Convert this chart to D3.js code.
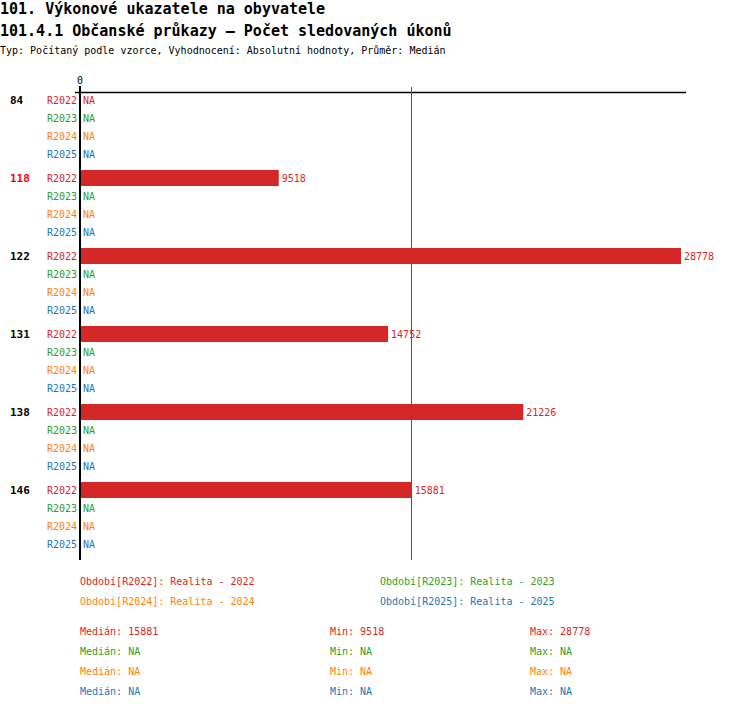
<!DOCTYPE html>
<html>
<head>
<meta charset="utf-8">
<script src="https://cdn.jsdelivr.net/npm/d3@7"></script>
<style>
  body { margin: 0; background: #fff; }
  text { font-family: "DejaVu Sans Mono", monospace; -webkit-font-smoothing: none; }
</style>
</head>
<body>
<div id="vis"></div>
<script>
var groups = ["84", "118", "122", "131", "138", "146"],
    highlight = "118",
    series = ["R2022", "R2023", "R2024", "R2025"],
    colors = ["#d62728", "#2ca02c", "#ff7f0e", "#1f77b4"],
    legendLabels = ["Období[R2022]: Realita - 2022", "Období[R2023]: Realita - 2023",
                    "Období[R2024]: Realita - 2024", "Období[R2025]: Realita - 2025"];

var values = [
  [null, 9518, 28778, 14752, 21226, 15881],   // R2022
  [null, null, null, null, null, null],       // R2023
  [null, null, null, null, null, null],       // R2024
  [null, null, null, null, null, null]        // R2025
];

var medians = [15881, null, null, null],
    mins = [9518, null, null, null],
    maxs = [28778, null, null, null];

var width = 750,
    height = 710;

var svg = d3.select("#vis").append("svg")
    .attr("width", width)
    .attr("height", height);

// titles
svg.append("text").attr("x", 0).attr("y", 14)
    .style("font-size", "15px").style("font-weight", "bold")
    .text("101. Výkonové ukazatele na obyvatele");
svg.append("text").attr("x", 0).attr("y", 36)
    .style("font-size", "15px").style("font-weight", "bold")
    .text("101.4.1 Občanské průkazy – Počet sledovaných úkonů");
svg.append("text").attr("x", 0).attr("y", 54)
    .style("font-size", "10px")
    .text("Typ: Počítaný podle vzorce, Vyhodnocení: Absolutní hodnoty, Průměr: Medián");

var x = d3.scaleLinear()
    .domain([0, d3.max(values[0])])
    .range([80, 681]);

var groupStep = 78, rowStep = 18, firstRow = 100;
function rowY(g, s) { return firstRow + g * groupStep + s * rowStep; }

// top axis line
svg.append("line")
    .attr("x1", 75).attr("x2", 686)
    .attr("y1", 92.5).attr("y2", 92.5)
    .attr("stroke", "#000").attr("stroke-width", 1.5);

svg.append("text")
    .attr("x", x(0)).attr("y", 84)
    .attr("text-anchor", "middle")
    .style("font-size", "10px")
    .text("0");

// median line
var mx = Math.round(x(medians[0])) - 0.5;
svg.append("line")
    .attr("x1", mx).attr("x2", mx)
    .attr("y1", 87).attr("y2", 560)
    .attr("stroke", "#c0282a").attr("stroke-width", 1)
    .attr("shape-rendering", "crispEdges");

// group labels
svg.selectAll(".glabel")
    .data(groups)
    .enter().append("text")
    .attr("x", 10)
    .attr("y", function(d, i) { return rowY(i, 0) + 4; })
    .style("font-size", "11px")
    .style("font-weight", "bold")
    .attr("fill", function(d) { return d === highlight ? "#ff0000" : "#000"; })
    .text(function(d) { return d; });

// rows
groups.forEach(function(g, gi) {
  series.forEach(function(s, si) {
    var y = rowY(gi, si),
        v = values[si][gi];
    svg.append("text")
        .attr("x", 77).attr("y", y + 4)
        .attr("text-anchor", "end")
        .style("font-size", "10px")
        .attr("fill", colors[si])
        .text(s);
    if (v != null) {
      svg.append("rect")
          .attr("x", x(0)).attr("y", y - 8)
          .attr("width", x(v) - x(0)).attr("height", 16)
          .attr("fill", colors[si]);
    }
    svg.append("text")
        .attr("x", (v != null ? x(v) : x(0)) + 3).attr("y", y + 4)
        .style("font-size", "10px")
        .attr("fill", colors[si])
        .text(v != null ? v : "NA");
  });
});

// zero axis
svg.append("line")
    .attr("x1", x(0)).attr("x2", x(0))
    .attr("y1", 86).attr("y2", 560)
    .attr("stroke", "#000").attr("stroke-width", 2);

// legend
legendLabels.forEach(function(l, i) {
  svg.append("text")
      .attr("x", i % 2 === 0 ? 80 : 380)
      .attr("y", 585 + Math.floor(i / 2) * 20)
      .style("font-size", "10px")
      .attr("fill", colors[i])
      .text(l);
});

// stats
function fmt(v) { return v == null ? "NA" : v; }
series.forEach(function(s, i) {
  var y = 635 + i * 20;
  [[80, "Medián: " + fmt(medians[i])], [330, "Min: " + fmt(mins[i])], [530, "Max: " + fmt(maxs[i])]]
    .forEach(function(c) {
      svg.append("text")
          .attr("x", c[0]).attr("y", y)
          .style("font-size", "10px")
          .attr("fill", colors[i])
          .text(c[1]);
    });
});
</script>
</body>
</html>
